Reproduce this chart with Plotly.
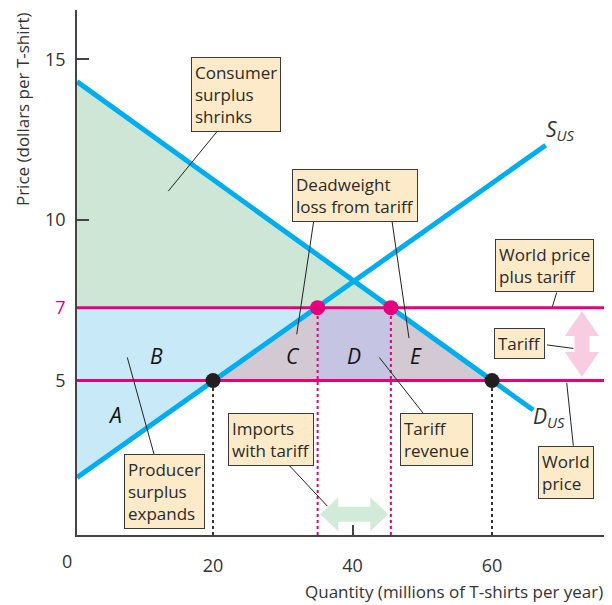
import plotly.graph_objects as go

# values (axis units: millions of T-shirts, dollars)
supply_q = [0.5, 67.7]
supply_p = [1.98, 12.33]
demand_q = [0.5, 65.9]
demand_p = [14.31, 4.08]

world_price = 5
tariff_price = 7.27          # the "7" line sits a little high in the original drawing
q_supply_world = 20
q_demand_world = 60
q_supply_tariff = 35
q_demand_tariff = 45.5

x_ticks = [20, 40, 60]
x_ticktext = ["20", "40", "60"]
y_ticks = [5, tariff_price, 10, 15]
y_ticktext = ["5", "<span style='color:#e6007e'>7</span>", "10", "15"]

FONT = "Open Sans"
BLUE = "#00aeef"
PINK = "#e6007e"
INK = "#333333"
X0, X1 = 0.5, 76.2
Y0, Y1 = 0.19, 16.54

fig = go.Figure()


def area(xs, ys, color):
    fig.add_trace(go.Scatter(x=xs, y=ys, fill="toself", fillcolor=color,
                             mode="lines", line=dict(width=0), hoverinfo="skip"))


# consumer surplus (green)
area([demand_q[0], q_demand_tariff, demand_q[0]],
     [demand_p[0], tariff_price, tariff_price], "#cde6d6")
# producer surplus A + B (blue)
area([supply_q[0], q_supply_tariff, supply_q[0]],
     [tariff_price, tariff_price, supply_p[0]], "#c7e9f8")
# deadweight loss C and E
area([q_supply_world, q_supply_tariff, q_supply_tariff],
     [world_price, tariff_price, world_price], "#d3c9d3")
area([q_demand_tariff, q_demand_world, q_demand_tariff],
     [tariff_price, world_price, world_price], "#d3c9d3")
# tariff revenue D
area([q_supply_tariff, q_demand_tariff, q_demand_tariff, q_supply_tariff],
     [world_price, world_price, tariff_price, tariff_price], "#c5c4e2")

# dotted drop lines
for q, p, c in [(q_supply_world, world_price, INK), (q_demand_world, world_price, INK),
                (q_supply_tariff, tariff_price, PINK), (q_demand_tariff, tariff_price, PINK)]:
    fig.add_trace(go.Scatter(x=[q, q], y=[Y0, p], mode="lines",
                             line=dict(color=c, width=2, dash="dot"), hoverinfo="skip"))

# price lines
for p in [world_price, tariff_price]:
    fig.add_trace(go.Scatter(x=[X0, X1], y=[p, p], mode="lines",
                             line=dict(color=PINK, width=3), hoverinfo="skip"))

# supply and demand
fig.add_trace(go.Scatter(x=supply_q, y=supply_p, mode="lines",
                         line=dict(color=BLUE, width=5), hoverinfo="skip"))
fig.add_trace(go.Scatter(x=demand_q, y=demand_p, mode="lines",
                         line=dict(color=BLUE, width=5), hoverinfo="skip"))

# points
fig.add_trace(go.Scatter(x=[q_supply_world, q_demand_world], y=[world_price, world_price],
                         mode="markers", marker=dict(color="#231f20", size=15), hoverinfo="skip"))
fig.add_trace(go.Scatter(x=[q_supply_tariff, q_demand_tariff], y=[tariff_price, tariff_price],
                         mode="markers", marker=dict(color=PINK, size=15), hoverinfo="skip"))

annotations = []


def box(text, x, y):
    annotations.append(dict(text=text, x=x, y=y, xref="x", yref="y", xanchor="left",
                            yanchor="top", showarrow=False, align="left",
                            bgcolor="#fdeac8", bordercolor="#3a3a3a", borderwidth=1,
                            borderpad=3, font=dict(family=FONT, size=17, color="#2a2a2a")))


box("Consumer<br>surplus<br>shrinks", 16.8, 15.09)
box("Deadweight<br>loss from tariff", 31.28, 11.59)
box("World price<br>plus tariff", 60.43, 9.41)
box("Tariff", 60.29, 6.64)
box("World<br>price", 66.64, 2.97)
box("Tariff<br>revenue", 46.81, 3.98)
box("Imports<br>with tariff", 22.11, 3.98)
box("Producer<br>surplus<br>expands", 7.24, 2.71)

for letter, x, y in [("A", 5.95, 3.93), ("B", 11.93, 5.76), ("C", 31.51, 5.76),
                     ("D", 40.22, 5.76), ("E", 49.06, 5.76)]:
    annotations.append(dict(text="<i>%s</i>" % letter, x=x, y=y, showarrow=False,
                            font=dict(family=FONT, size=21, color="#111")))

annotations.append(dict(text="<i>S</i><sub><i>US</i></sub>", x=69.75, y=12.8, showarrow=False,
                        font=dict(family=FONT, size=21, color=INK)))
annotations.append(dict(text="<i>D</i><sub><i>US</i></sub>", x=68.17, y=3.87, showarrow=False,
                        font=dict(family=FONT, size=21, color=INK)))

# paper-positioned texts (the page has an 8 px body margin, figure is offset by it)
annotations.append(dict(text="0", x=-0.019, y=-0.05, xref="paper", yref="paper",
                        xanchor="center", yanchor="middle", showarrow=False,
                        font=dict(family=FONT, size=18, color=INK)))
annotations.append(dict(text="Price (dollars per T-shirt)", textangle=-90, x=-0.104, y=1.0,
                        xref="paper", yref="paper", xanchor="center", yanchor="top",
                        showarrow=False, font=dict(family=FONT, size=17, color=INK)))
annotations.append(dict(text="Quantity (millions of T-shirts per year)", x=1.0, y=-0.107,
                        xref="paper", yref="paper", xanchor="right", yanchor="middle",
                        showarrow=False, font=dict(family=FONT, size=17, color=INK)))

shapes = []
# leader lines from the boxes
for x0, y0, x1, y1 in [(20.86, 12.83, 13.59, 10.90), (34.48, 10.03, 32.0, 6.44),
                       (45.62, 10.03, 48.1, 6.32), (69.28, 7.74, 68.65, 7.30),
                       (67.89, 6.11, 71.66, 6.0), (71.66, 2.97, 70.71, 4.93),
                       (50.1, 3.99, 43.84, 5.72), (30.57, 2.44, 36.39, 1.09),
                       (11.54, 2.71, 7.71, 5.72)]:
    shapes.append(dict(type="line", x0=x0, y0=y0, x1=x1, y1=y1, xref="x", yref="y",
                       line=dict(color="#222", width=1), layer="above"))

# tariff arrow (vertical, pink) and imports arrow (horizontal, green)
shapes.append(dict(type="path", xref="x", yref="y", xsizemode="pixel", ysizemode="pixel",
                   xanchor=72.9, yanchor=(world_price + tariff_price) / 2,
                   path="M 0,33 L 17,8 L 7.5,8 L 7.5,-8 L 17,-8 L 0,-33 L -17,-8 L -7.5,-8 "
                        "L -7.5,8 L -17,8 Z",
                   fillcolor="#f8cde2", line=dict(width=0), layer="above"))
shapes.append(dict(type="path", xref="x", yref="y", xsizemode="pixel", ysizemode="pixel",
                   xanchor=(q_supply_tariff + q_demand_tariff) / 2, yanchor=0.84,
                   path="M -34,0 L -16,17 L -16,7.5 L 16,7.5 L 16,17 L 34,0 L 16,-17 "
                        "L 16,-7.5 L -16,-7.5 L -16,-17 Z",
                   fillcolor="#d2ebd8", line=dict(width=0), layer="above"))

fig.update_layout(
    width=604, height=597,
    margin=dict(l=69, r=7, t=2, b=70),
    plot_bgcolor="white", paper_bgcolor="white",
    showlegend=False,
    font=dict(family=FONT, size=17, color=INK),
    xaxis=dict(range=[X0, X1], showline=True, linecolor="#444", linewidth=1.5,
               showgrid=False, zeroline=False, tickmode="array", tickvals=x_ticks,
               ticktext=x_ticktext, ticks="", ticklabelstandoff=14,
               tickfont=dict(family=FONT, size=18, color=INK),
               minor=dict(tickmode="array", tickvals=[40], ticks="inside", ticklen=10,
                          tickcolor="#444", tickwidth=1.5, showgrid=False)),
    yaxis=dict(range=[Y0, Y1], showline=True, linecolor="#444", linewidth=1.5,
               showgrid=False, zeroline=False, tickmode="array", tickvals=y_ticks,
               ticktext=y_ticktext, ticks="", ticklabelstandoff=6,
               tickfont=dict(family=FONT, size=18, color=INK),
               minor=dict(tickmode="array", tickvals=[10, 15], ticks="inside", ticklen=12,
                          tickcolor="#444", tickwidth=1.5, showgrid=False)),
    annotations=annotations,
    shapes=shapes,
)

fig.write_html("out.html")
